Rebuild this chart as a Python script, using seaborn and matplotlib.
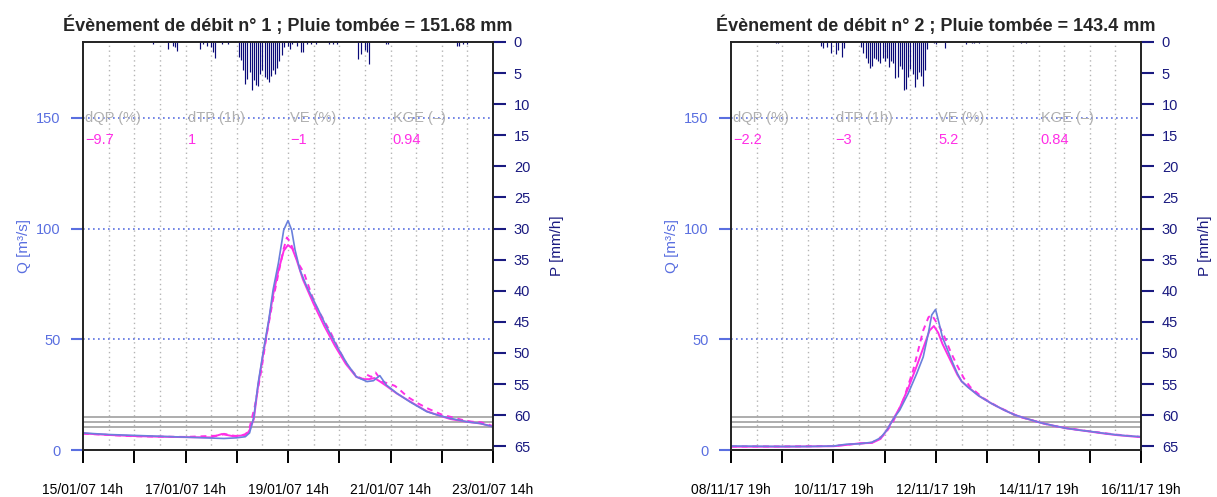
import numpy as np
import pandas as pd
import matplotlib
matplotlib.use("Agg")
import matplotlib.pyplot as plt
import seaborn as sns

# ---- data (hours since start of each event) ----
# event 1 : 15/01/07 14h -> 23/01/07 14h
t_obs1 = [0, 12, 24, 36, 48, 60, 66, 72, 76, 78, 80, 82, 84.5, 87, 89, 91.5, 94, 96, 97.7, 99.3, 101.6, 104.8,
          109.5, 114, 119, 123.5, 128, 133, 136, 139, 142, 147, 153, 161, 167, 172, 180, 186, 192]
q_obs1 = [7.7, 7.0, 6.6, 6.2, 5.8, 5.4, 5.2, 5.5, 6.0, 7.7, 15, 30, 45, 58.7, 72.3, 84.4, 99.4, 103.6, 99.4, 90.4,
          81.3, 73.8, 64.8, 55.7, 46.7, 39.2, 33.1, 30.9, 31.3, 33.6, 29.4, 25.6, 21.8, 17.3, 15.5, 14.3, 12.7, 12.0, 10.5]
t_sim1 = [0, 12, 24, 36, 48, 60, 65, 70, 74, 77, 78, 80, 82, 84.5, 87, 89, 91.5, 94, 96, 98, 100, 103, 108, 113,
          118, 123, 128, 131, 134, 136.5, 139, 142, 147, 153, 161, 167, 172, 180, 186, 192]
q_sim1 = [7.5, 6.8, 6.3, 6.0, 5.8, 5.7, 7.2, 6.3, 6.5, 7.5, 9, 14, 29, 44, 58, 70, 81, 90, 92.6, 91, 86, 77, 66, 56,
          47, 39, 33, 32, 32, 32.5, 31, 29, 25.5, 22, 17.5, 15.5, 14, 12.7, 12, 10.6]
t_ens1 = [0, 24, 48, 64, 66, 72, 76, 78, 80.5, 83.5, 86, 89, 92, 94, 95.5, 97, 99, 101, 103.5, 106, 109, 112, 116,
          120, 124, 128, 131, 133, 135, 137, 140, 143, 146, 148, 152, 157, 162, 168, 174, 178, 182, 186, 190, 192]
q_ens1 = [7.4, 6.2, 5.9, 6.5, 7.3, 6.2, 6.8, 10, 20, 36, 52, 68, 82, 91, 96, 94, 89, 84, 80, 73, 65, 60, 53,
          45, 38, 33.5, 32, 34, 33, 35, 31, 30, 29, 27.5, 24, 21, 18.5, 16, 14.5, 13.5, 12.8, 12.6, 11.5, 10.7]
rain_t1 = [33, 40, 42, 43, 44, 55, 56, 58, 60, 61, 62, 65, 68, 73, 74, 75, 76, 77, 78, 79, 80, 81, 82, 83, 84, 85,
           86, 87, 88, 89, 90, 91, 92, 93, 94, 96, 97, 98, 100, 102, 103, 105, 107, 109, 115, 117, 119, 129, 130,
           132, 133, 134, 142, 143, 175, 176, 178, 180]
rain_p1 = [0.3, 1.1, 0.7, 0.8, 1.4, 1.1, 0.4, 0.6, 0.8, 1.6, 2.5, 0.4, 0.3, 2.4, 2.9, 4.5, 6.7, 5.9, 4.8, 7.7, 6.1,
           6.9, 7.1, 5.1, 4.5, 5.6, 5.9, 6.4, 5.4, 4.5, 5.2, 4.2, 3.0, 2.1, 0.8, 0.6, 1.1, 0.4, 0.7, 1.6, 1.6, 0.4,
           0.4, 0.4, 0.3, 0.4, 0.3, 2.8, 1.9, 1.3, 1.6, 3.5, 0.4, 0.3, 0.7, 0.6, 0.4, 0.3]
labels1 = ["15/01/07 14h", "17/01/07 14h", "19/01/07 14h", "21/01/07 14h", "23/01/07 14h"]
stats1 = ["\u22129.7", "1", "\u22121", "0.94"]
title1 = "Évènement de débit n° 1 ; Pluie tombée = 151.68 mm"

# event 2 : 08/11/17 19h -> 16/11/17 19h
t_obs2 = [0, 12, 24, 36, 48, 54, 60, 66, 70, 73, 76, 79, 83, 87, 90, 92.4, 94, 95.8, 97.5, 99, 101.5, 104, 106,
          108, 111, 116, 122, 128, 133, 139, 145, 151, 157, 163, 169, 175, 181, 187, 192]
q_obs2 = [1.8, 1.7, 1.6, 1.6, 1.8, 2.6, 2.8, 3.5, 5.5, 9, 14, 18, 25.6, 34.6, 42, 52.7, 61, 63.5, 57, 51, 45, 39,
          34.6, 31, 28.3, 24.5, 21, 18, 15.8, 14, 12.3, 11, 9.8, 9, 8.3, 7.5, 6.8, 6.3, 6.0]
t_sim2 = [0, 12, 24, 36, 48, 54, 60, 66, 70, 73, 76, 79, 83, 87, 90, 93, 95, 97, 99, 101.5, 104, 106, 108, 111,
          116, 122, 128, 133, 139, 145, 151, 157, 163, 169, 175, 181, 187, 192]
q_sim2 = [1.5, 1.5, 1.5, 1.6, 1.7, 2.3, 3.0, 3.2, 5.0, 9, 14, 19, 28, 38, 46, 54, 56, 53, 48, 43, 38, 34, 31, 28.5,
          24.5, 21, 18, 15.8, 14, 12.3, 11, 9.8, 9, 8.2, 7.4, 6.7, 6.2, 5.8]
t_ens2 = [0, 24, 48, 60, 66, 72, 76, 80.7, 85.3, 90, 92.5, 94, 96, 98, 100, 103, 106, 109, 112, 118, 125, 135,
          150, 165, 180, 192]
q_ens2 = [1.6, 1.6, 1.8, 2.9, 3.3, 7, 13, 22.6, 36, 54, 60, 61, 58, 55, 51, 44, 38, 32.5, 28.5, 23.5, 19.5, 15,
          11, 8.8, 7, 5.9]
rain_t2 = [21, 22, 42, 43, 45, 47, 49, 50, 52, 53, 61, 62, 63, 64, 65, 66, 67, 68, 69, 70, 71, 72, 73, 74, 75, 76,
           77, 78, 79, 80, 81, 82, 83, 84, 85, 86, 87, 88, 89, 90, 91, 92, 95, 96, 100, 110, 113, 114, 116, 136, 138]
rain_p2 = [0.2, 0.2, 0.6, 1.0, 0.8, 1.7, 1.9, 1.3, 2.4, 1.0, 0.8, 1.7, 2.5, 3.3, 4.2, 3.8, 2.5, 2.7, 3.0, 3.3, 2.6,
           3.1, 2.5, 4.0, 3.0, 3.4, 5.8, 5.7, 3.8, 4.4, 7.7, 7.6, 5.7, 4.4, 5.2, 7.2, 6.0, 4.8, 5.5, 7.0, 4.5, 1.1,
           0.2, 0.3, 1.0, 0.4, 0.2, 0.2, 0.2, 0.2, 0.2]
labels2 = ["08/11/17 19h", "10/11/17 19h", "12/11/17 19h", "14/11/17 19h", "16/11/17 19h"]
stats2 = ["\u22122.2", "\u22123", "5.2", "0.84"]
title2 = "Évènement de débit n° 2 ; Pluie tombée = 143.4 mm"

stat_names = ["dQP (%)", "dTP (1h)", "VE (%)", "KGE (\u2013)"]
thresholds = [10.3, 12.8, 15.0]

qblue = "#5a6fe0"
obsblue = "#6a80dc"
pnavy = "#1a1a80"
mag = "#ff2ee6"

sns.set_style("white")
plt.rcParams['font.family'] = ['Liberation Sans', 'DejaVu Sans']

fig = plt.figure(figsize=(12.17, 4.97), dpi=100)


def panel(left, t_obs, q_obs, t_sim, q_sim, t_ens, q_ens, rain_t, rain_p, labels, stats, title):
    ax = fig.add_axes([left / 1217, 47 / 497, 410 / 1217, 408 / 497])
    # grid
    for h in range(12, 192, 12):
        ax.axvline(h, color="#b4b4b4", ls=(0, (1, 2.5)), lw=1.0, zorder=0)
    for q in [50, 100, 150]:
        ax.axhline(q, color=qblue, ls=(0, (1, 2)), lw=1.2, zorder=0)
    for q in thresholds:
        ax.axhline(q, color="#a0a0a0", lw=1.2, zorder=1)
    # flows
    sns.lineplot(x=t_ens, y=q_ens, ax=ax, color=mag, lw=1.4, linestyle=(0, (3, 2.5)), estimator=None, sort=False)
    sns.lineplot(x=t_sim, y=q_sim, ax=ax, color=mag, lw=1.4, estimator=None, sort=False)
    sns.lineplot(x=t_obs, y=q_obs, ax=ax, color=obsblue, lw=1.2, estimator=None, sort=False)
    ax.set_xlim(0, 192)
    ax.set_ylim(0, 184.3)
    ax.set_xticks(range(0, 193, 24))
    xl = []
    for i in range(9):
        xl.append(labels[i // 2] if i % 2 == 0 else "")
    ax.set_xticklabels(xl)
    ax.set_yticks([0, 50, 100, 150])
    ax.tick_params(axis="x", length=9, width=1.4, pad=15, labelsize=10, colors="black", direction="out", bottom=True)
    ax.tick_params(axis="y", length=9, width=1.5, color=qblue, labelcolor=qblue, labelsize=10.5, pad=7, left=True)
    ax.set_ylabel("Q [m³/s]", color=qblue, fontsize=11, labelpad=4)
    for sp in ax.spines.values():
        sp.set_color("#222222")
        sp.set_linewidth(1.2)
    # stats
    for k, x0 in enumerate([1, 49, 97, 145]):
        ax.text(x0, 150, stat_names[k], color="#b0b0b0", fontsize=10.5, ha="left", va="center")
        ax.text(x0, 140, stats[k], color=mag, fontsize=10.5, ha="left", va="center")
    ax.set_title(title, fontsize=13, fontweight="bold", pad=8)
    # rain
    ax2 = ax.twinx()
    ax2.vlines(rain_t, 0, rain_p, color="#0a0a78", lw=0.85)
    ax2.set_ylim(65.6, 0)
    ax2.set_yticks(range(0, 66, 5))
    ax2.tick_params(axis="y", length=9, width=1.5, color=pnavy, labelcolor=pnavy, labelsize=10.5, pad=6, right=True)
    ax2.set_ylabel("P [mm/h]", color=pnavy, fontsize=11, labelpad=14)
    for sp in ax2.spines.values():
        sp.set_color("#222222")
        sp.set_linewidth(1.2)
    return ax


panel(83, t_obs1, q_obs1, t_sim1, q_sim1, t_ens1, q_ens1, rain_t1, rain_p1, labels1, stats1, title1)
panel(731, t_obs2, q_obs2, t_sim2, q_sim2, t_ens2, q_ens2, rain_t2, rain_p2, labels2, stats2, title2)

fig.savefig("out.png", dpi=100)
